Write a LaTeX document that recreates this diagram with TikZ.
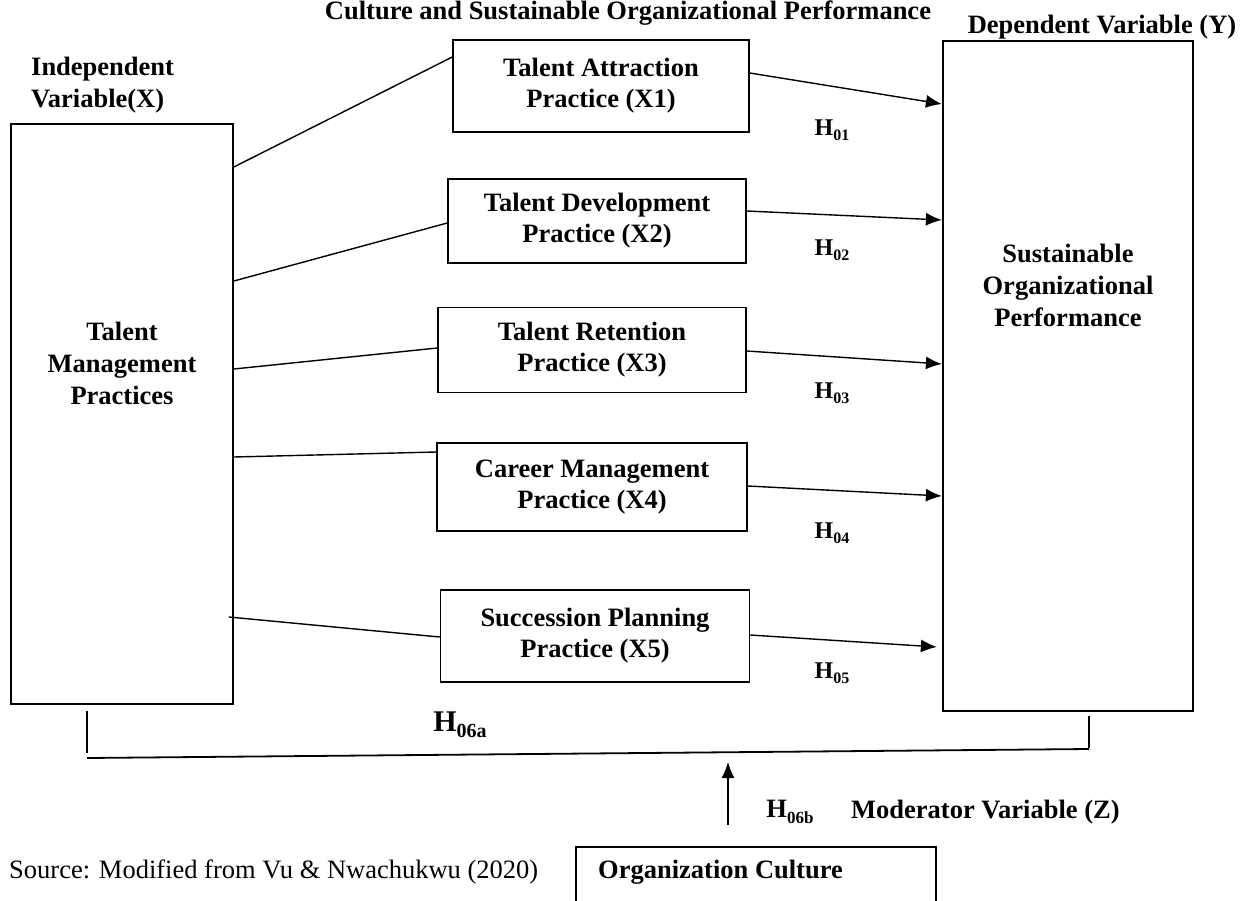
\documentclass[tikz,border=0pt]{standalone}
\usepackage{fontspec}
\setmainfont{Liberation Serif}
\usepackage{tikz}
\usetikzlibrary{arrows.meta,calc}
\newcommand{\hname}[2][16]{H\raisebox{-0.2em}{\fontsize{#1}{#1}\selectfont #2}}

\begin{document}
\begin{tikzpicture}[x=1pt, y=-1pt, >={Latex[length=16pt,width=13pt]}]
    \tikzstyle{varbox} = [draw, line width=1.7pt, inner sep=0pt]
    \tikzstyle{practice} = [draw, line width=1.5pt, align=center, inner sep=0pt, font=\bfseries\fontsize{26.5}{31}\selectfont]
    \tikzstyle{lbl} = [align=center, inner sep=0pt, font=\bfseries\fontsize{26.5}{32}\selectfont]
    \tikzstyle{hyp} = [inner sep=0pt, font=\bfseries\fontsize{24}{26}\selectfont]
    \tikzstyle{link} = [line width=1.4pt]

    \useasboundingbox (0,0) rectangle (1240,900);

    % headings
    \node [lbl, anchor=base] (title) at (628,19) {Culture and Sustainable Organizational Performance};
    \node [lbl, anchor=base] (dep) at (1102,33) {Dependent Variable (Y)};
    \node [lbl, align=left, anchor=west] (indep) at (31,85) {Independent\\Variable(X)};

    % independent and dependent variables
    \node [varbox, minimum width=222pt, minimum height=580pt] (tmp) at (122,414) {};
    \node [lbl] (tmptxt) at (122,363) {Talent\\Management\\Practices};
    \node [varbox, line width=2.2pt, minimum width=250pt, minimum height=670pt] (sop) at (1068,376) {};
    \node [lbl] (soptxt) at (1068,285) {Sustainable\\Organizational\\Performance};

    % practices
    \node [practice, minimum width=296pt, minimum height=92pt] (att) at (601,86) {Talent Attraction\\Practice (X1)};
    \node [practice, minimum width=298pt, minimum height=84pt] (dev) at (597,221) {Talent Development\\Practice (X2)};
    \node [practice, minimum width=308pt, minimum height=85pt] (ret) at (592,350) {Talent Retention\\Practice (X3)};
    \node [practice, minimum width=310pt, minimum height=88pt] (car) at (592,487) {Career Management\\Practice (X4)};
    \node [practice, minimum width=309pt, minimum height=92pt] (suc) at (595,636) {Succession Planning\\Practice (X5)};

    % links from the left box
    \draw [link] (tmp.east |- 0,167) -- (att.west |- 0,57);
    \draw [link] (tmp.east |- 0,281) -- (dev.west |- 0,223);
    \draw [link] (tmp.east |- 0,369) -- (ret.west |- 0,348);
    \draw [link] (tmp.east |- 0,457) -- (car.west |- 0,452);
    \draw [link] ([xshift=-5pt]tmp.east |- 0,617) -- (suc.west |- 0,637);

    % hypotheses arrows
    \draw [link, ->] (att.east |- 0,73) -- (sop.west |- 0,104);
    \draw [link, ->] (dev.east |- 0,211) -- (sop.west |- 0,220);
    \draw [link, ->] (ret.east |- 0,351) -- (sop.west |- 0,364);
    \draw [link, ->] (car.east |- 0,486) -- (sop.west |- 0,496);
    \draw [link, ->] (suc.east |- 0,635) -- ([xshift=-5pt]sop.west |- 0,647);

    \node [hyp] (h1) at (832,130) {\hname{01}};
    \node [hyp] (h2) at (832,250) {\hname{02}};
    \node [hyp] (h3) at (832,393) {\hname{03}};
    \node [hyp] (h4) at (832,533) {\hname{04}};
    \node [hyp] (h5) at (832,673) {\hname{05}};

    % moderator
    \coordinate (bl) at (87,758);
    \coordinate (br) at (1089,749);
    \draw [link] ([yshift=-6pt]tmp.south -| bl) -- ([yshift=5pt]bl);
    \draw [link] ([yshift=-4pt]sop.south -| br) -- ([yshift=1pt]br);
    \draw [line width=1.8pt] (bl) -- (br);
    \node [hyp, font=\bfseries\fontsize{30}{32}\selectfont] (h6a) at (460,725) {\hname[20]{06a}};

    \coordinate (modtail) at (728,825);
    \coordinate (modhead) at (728,762);
    \draw [link, ->] (modtail) -- (modhead);
    \node [hyp, font=\bfseries\fontsize{26.5}{28}\selectfont] (h6b) at (790,812) {\hname[17]{06b}};
    \node [lbl, anchor=west] (modlbl) at (851,812) {Moderator Variable (Z)};

    \node [varbox, minimum width=360pt, minimum height=110pt, anchor=north west] (cul) at (575,846) {};
    \node [lbl, anchor=base west] (cultxt) at (598,878) {Organization Culture};
    \node [inner sep=0pt, anchor=base west, font=\fontsize{26.5}{32}\selectfont] (src) at (9,878) {Source: Modified from Vu \& Nwachukwu (2020)};
\end{tikzpicture}
\end{document}
